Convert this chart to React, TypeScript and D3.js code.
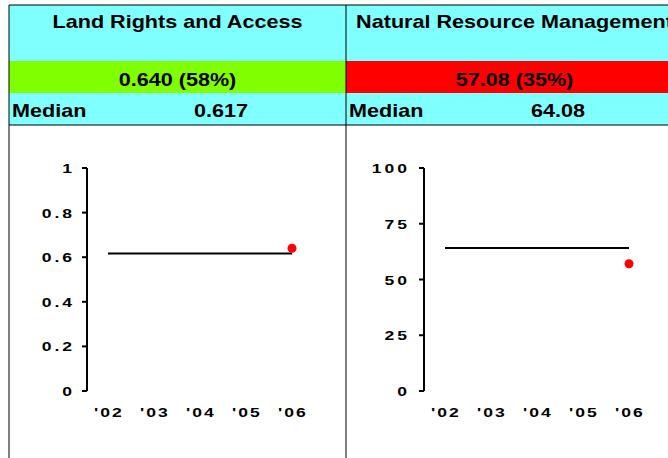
import React from "react";
import * as d3 from "d3";

const titles = ["Land Rights and Access", "Natural Resource Management"];
const scores = [0.64, 57.08];
const scoreLabels = ["0.640 (58%)", "57.08 (35%)"];
const bandColors = ["#80FF00", "#FF0000"];
const medians = [0.617, 64.08];
const medianLabels = ["0.617", "64.08"];
const yMaxes = [1, 100];
const yTicks = [
  [0, 0.2, 0.4, 0.6, 0.8, 1],
  [0, 25, 50, 75, 100],
];
const yTickLabels = [
  ["0", "0.2", "0.4", "0.6", "0.8", "1"],
  ["0", "25", "50", "75", "100"],
];
const years = ["'02", "'03", "'04", "'05", "'06"];
const scoreYear = "'06";

const W = 668;
const H = 458;
const panelW = 337;
const left0 = 9;
const top0 = 5;
const cyan = "#80FFFF";
const font = "Arial, 'Liberation Sans', sans-serif";

// wide bold text, like the stretched spreadsheet font
const Wide = ({ x, y, sx = 1.2, anchor = "middle", size = 18, ls = 0, children }: any) => (
  <text
    transform={`translate(${x},${y}) scale(${sx},1)`}
    textAnchor={anchor}
    fontSize={size}
    fontWeight="bold"
    letterSpacing={ls}
    fontFamily={font}>
    {children}
  </text>
);

const Panel = ({ i, x0 }: { i: number; x0: number }) => {
  const xScale = d3.scalePoint().domain(years).range([x0 + 99, x0 + 283]);
  const yScale = d3.scaleLinear().domain([0, yMaxes[i]]).range([391, 168]);
  const axisX = x0 + 78;
  const cx = x0 + panelW / 2;
  return (
    <g>
      {/* header blocks */}
      <rect x={x0} y={top0} width={panelW} height={56} fill={cyan} />
      <rect x={x0} y={61} width={panelW} height={32} fill={bandColors[i]} />
      <rect x={x0} y={93} width={panelW} height={32} fill={cyan} />
      <Wide x={cx} y={28}>{titles[i]}</Wide>
      <Wide x={cx} y={86}>{scoreLabels[i]}</Wide>
      <Wide x={x0 + 3} y={117} anchor="start">Median</Wide>
      <Wide x={x0 + 212} y={117}>{medianLabels[i]}</Wide>

      {/* y axis */}
      <line x1={axisX} x2={axisX} y1={yScale(yMaxes[i])} y2={yScale(0)} stroke="#000" strokeWidth={2} />
      {yTicks[i].map((t, k) => (
        <g key={t}>
          <line x1={axisX - 5} x2={axisX} y1={yScale(t)} y2={yScale(t)} stroke="#000" strokeWidth={2} />
          <Wide x={axisX - 12 - 2 * i} y={yScale(t) + 5} anchor="end" size={13} sx={1.35} ls={2.2}>
            {yTickLabels[i][k]}
          </Wide>
        </g>
      ))}

      {/* x labels */}
      {years.map((yr) => (
        <Wide key={yr} x={(xScale(yr) as number) + 1} y={417} size={13} sx={1.35} ls={1.5}>
          {yr}
        </Wide>
      ))}

      {/* median line */}
      <line
        x1={xScale(years[0])}
        x2={xScale(years[years.length - 1])}
        y1={yScale(medians[i])}
        y2={yScale(medians[i])}
        stroke="#000"
        strokeWidth={2}
      />
      {/* score point */}
      <circle cx={xScale(scoreYear)} cy={yScale(scores[i])} r={4.5} fill="#FF0000" />
    </g>
  );
};

const App = () => {
  const xs = titles.map((_, i) => left0 + i * panelW);
  return (
    <svg
      width={W}
      height={H}
      style={{ position: "absolute", left: 0, top: 0, background: "#fff" }}>
      {xs.map((x0, i) => (
        <Panel key={i} i={i} x0={x0} />
      ))}
      {/* grid borders */}
      <line x1={left0} x2={W} y1={top0} y2={top0} stroke="#000" strokeWidth={1} />
      <line x1={left0} x2={W} y1={125} y2={125} stroke="#000" strokeWidth={1} />
      {[...xs, left0 + 2 * panelW].map((x, k) => (
        <line key={k} x1={x} x2={x} y1={top0} y2={H} stroke="#000" strokeWidth={1} />
      ))}
    </svg>
  );
};

export default App;
